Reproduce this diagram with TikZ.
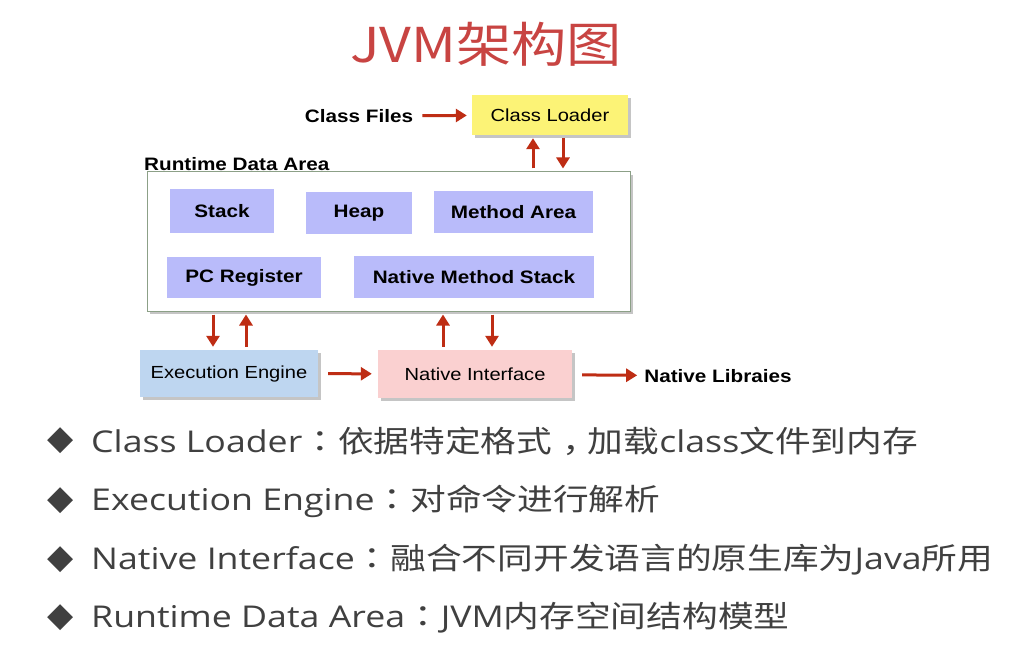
\documentclass[tikz,border=0pt]{standalone}
\usepackage{fontspec}
\setmainfont[FakeStretch=1.15]{Liberation Sans}
\newfontfamily\cjkfont[FakeStretch=1.19]{Noto Sans CJK SC}
\newfontfamily\punctfont[FakeStretch=1.19]{Noto Sans CJK TC}
\newfontfamily\titlefont[FakeStretch=1.15]{Noto Sans CJK SC}
\newfontfamily\segfont[FakeStretch=1.19]{Open Sans}
\newfontfamily\symfont{DejaVu Sans}
\usetikzlibrary{arrows.meta,shadows}

\definecolor{titlered}{RGB}{200,68,66}
\definecolor{arrowred}{RGB}{190,45,20}
\definecolor{loaderyellow}{RGB}{252,243,118}
\definecolor{areablue}{RGB}{185,187,250}
\definecolor{engineblue}{RGB}{190,214,240}
\definecolor{nativepink}{RGB}{250,208,208}
\definecolor{framegreen}{RGB}{140,160,135}
\definecolor{textgray}{RGB}{64,64,64}

\begin{document}
\begin{tikzpicture}[x=1pt,y=-1pt,
  lbl/.style={font=\fontsize{18}{20}\selectfont\bfseries,inner sep=1pt},
  area/.style={fill=areablue,font=\fontsize{18}{20}\selectfont\bfseries,inner sep=0pt},
  block/.style={font=\fontsize{17.5}{20}\selectfont,inner sep=0pt,
    drop shadow={shadow xshift=3pt,shadow yshift=-3pt,opacity=.45}},
  arr/.style={-{Triangle[length=11pt,width=13pt]},line width=3pt,draw=arrowred,
    shorten >=3pt,shorten <=3pt},
  item/.style={anchor=west,text=textgray,font=\segfont\fontsize{30}{36}\selectfont,inner sep=0pt},
  bullet/.style={text=textgray,font=\symfont\fontsize{34}{38}\selectfont,inner sep=0pt}]
  \fill[white] (0,0) rectangle (1021,650);
  \useasboundingbox (0,0) rectangle (1021,650);

  \node[text=titlered,font=\titlefont\fontsize{48}{54}\selectfont] (title) at (486,44) {JVM架构图};

  % runtime data area
  \node[block,draw=framegreen,fill=white,line width=1pt,minimum width=483pt,minimum height=139pt] (rda) at (388.5,241.5) {};
  \node[lbl,anchor=south west] (rdalbl) at (143,172) {Runtime Data Area};
  \node[area,minimum width=104pt,minimum height=44pt] (stack) at (222,211) {Stack};
  \node[area,minimum width=106pt,minimum height=42pt] (heap) at (359,213) {Heap};
  \node[area,minimum width=159pt,minimum height=42pt] (method) at (513.5,212) {Method Area};
  \node[area,minimum width=154pt,minimum height=41pt] (pc) at (244,277.5) {PC Register};
  \node[area,minimum width=240pt,minimum height=42pt] (nms) at (474,277) {Native Method Stack};

  \node[block,fill=loaderyellow,minimum width=156pt,minimum height=40pt] (cl) at (550,115) {Class Loader};
  \node[lbl] (cf) at (359,116) {Class Files};
  \node[block,fill=engineblue,minimum width=178pt,minimum height=47pt] (ee) at (229,373.5) {Execution Engine};
  \node[block,fill=nativepink,minimum width=194pt,minimum height=48pt] (ni) at (475,374) {Native Interface};
  \node[lbl] (nl) at (718,376) {Native Libraies};

  \draw[arr,shorten <=8pt,shorten >=5pt] (cf) -- (cl);
  \draw[arr] ([xshift=144.5pt]rda.north) -- ([xshift=-17pt]cl.south);
  \draw[arr] ([xshift=13pt]cl.south) -- ([xshift=174.5pt]rda.north);
  \draw[arr] ([xshift=-175.5pt]rda.south) -- ([xshift=-16pt]ee.north);
  \draw[arr] ([xshift=17pt]ee.north) -- ([xshift=-142.5pt]rda.south);
  \draw[arr] ([xshift=-32pt]ni.north) -- ([xshift=54.5pt]rda.south);
  \draw[arr] ([xshift=103.5pt]rda.south) -- ([xshift=17pt]ni.north);
  \draw[arr,shorten <=10pt,shorten >=6pt] (ee) -- (ni);
  \draw[arr,shorten <=10pt,shorten >=6pt] (ni) -- (nl);

  % bullet list
  \node[bullet] (b1) at (61,441) {◆};
  \node[item] (t1) at (91,441) {Class Loader{\punctfont ：}{\cjkfont 依据特定格式\hspace{0.35em}，\hspace{-0.35em}加载}class{\cjkfont 文件到内存}};
  \node[bullet] (b2) at (61,501) {◆};
  \node[item] (t2) at (91,501) {Execution Engine{\punctfont ：}{\cjkfont 对命令进行解析}};
  \node[bullet] (b3) at (61,560) {◆};
  \node[item] (t3) at (91,560) {Native Interface{\punctfont ：}{\cjkfont 融合不同开发语言的原生库为}Java{\cjkfont 所用}};
  \node[bullet] (b4) at (61,618) {◆};
  \node[item] (t4) at (91,618) {Runtime Data Area{\punctfont ：}JVM{\cjkfont 内存空间结构模型}};
\end{tikzpicture}
\end{document}
